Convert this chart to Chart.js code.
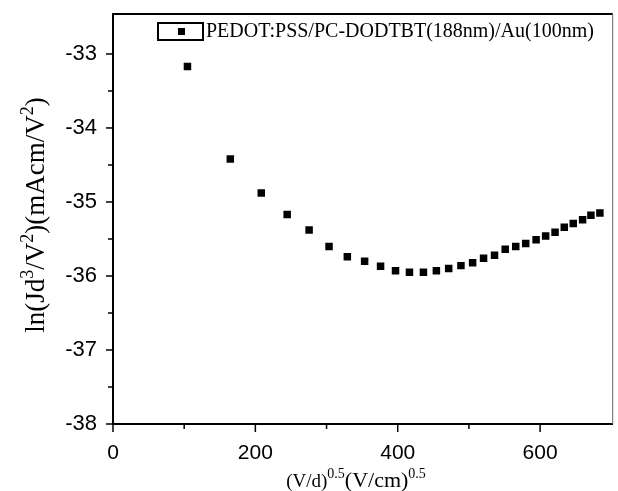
<!DOCTYPE html>
<html>
<head>
  <meta charset="UTF-8" />
  <title>SCLC plot</title>
  <script src="https://cdn.jsdelivr.net/npm/chart.js@4.4.0/dist/chart.umd.min.js"></script>
  <style>
    html, body { margin: 0; padding: 0; background: #fff; }
    #wrap { width: 618px; height: 491px; }
  </style>
</head>
<body>
  <div id="wrap"><canvas id="c" width="618" height="491"></canvas></div>
  <script>
    const seriesLabel = 'PEDOT:PSS/PC-DODTBT(188nm)/Au(100nm)';
    const xValues = [104.6, 164.8, 208.3, 244.7, 275.5, 303.5, 329.2, 353.5, 375.9, 396.9,
                     416.5, 436.1, 454.3, 471.6, 488.8, 505.2, 520.6, 536.0, 551.0, 565.8,
                     579.8, 594.4, 607.8, 621.0, 634.0, 646.6, 659.7, 671.4, 684.0];
    const yValues = [-33.17, -34.42, -34.88, -35.17, -35.38, -35.60, -35.74, -35.80, -35.87, -35.93,
                     -35.95, -35.95, -35.93, -35.90, -35.86, -35.82, -35.76, -35.72, -35.64, -35.60,
                     -35.56, -35.51, -35.46, -35.41, -35.34, -35.29, -35.24, -35.18, -35.15];
    // all tick positions (major + minor) and the labelled ones
    const xTicks = [0, 100, 200, 300, 400, 500, 600];
    const xTickLabels = [0, 200, 400, 600];
    const yTicks = [-38, -37.5, -37, -36.5, -36, -35.5, -35, -34.5, -34, -33.5, -33];
    const yTickLabels = [-38, -37, -36, -35, -34, -33];

    const serif = '"Liberation Serif", "Times New Roman", serif';
    const sans = '"Liberation Sans", Arial, sans-serif';

    // draw text pieces with superscripts, centred on the origin
    function richText(ctx, parts) {
      let w = 0;
      parts.forEach(p => {
        ctx.font = p.size + 'px ' + serif;
        w += ctx.measureText(p.t).width;
      });
      let x = -w / 2;
      parts.forEach(p => {
        ctx.font = p.size + 'px ' + serif;
        ctx.fillText(p.t, x, p.rise || 0);
        x += ctx.measureText(p.t).width;
      });
    }

    const decor = {
      id: 'decor',
      afterDraw(chart) {
        const ctx = chart.ctx;
        const a = chart.chartArea;
        const xs = chart.scales.x, ys = chart.scales.y;
        ctx.save();
        // top and right frame
        ctx.strokeStyle = '#000';
        ctx.lineWidth = 2;
        ctx.beginPath();
        ctx.moveTo(a.left, a.top); ctx.lineTo(a.right, a.top);
        ctx.stroke();
        ctx.strokeStyle = '#666';
        ctx.lineWidth = 1;
        ctx.beginPath();
        ctx.moveTo(a.right, a.top); ctx.lineTo(a.right, a.bottom);
        ctx.stroke();

        // tick marks, major longer than minor
        ctx.strokeStyle = '#000';
        ctx.lineWidth = 1.5;
        xs.ticks.forEach(t => {
          const len = xTickLabels.includes(t.value) ? 8 : 5;
          const px = xs.getPixelForValue(t.value);
          ctx.beginPath();
          ctx.moveTo(px, a.bottom); ctx.lineTo(px, a.bottom + len);
          ctx.stroke();
        });
        ys.ticks.forEach(t => {
          const len = yTickLabels.includes(t.value) ? 7 : 5;
          const py = ys.getPixelForValue(t.value);
          ctx.beginPath();
          ctx.moveTo(a.left, py); ctx.lineTo(a.left - len, py);
          ctx.stroke();
        });

        // legend
        ctx.lineWidth = 2;
        ctx.strokeRect(158, 23, 45, 17);
        ctx.fillStyle = '#000';
        ctx.fillRect(178, 28, 7, 7);
        ctx.font = '20px ' + serif;
        ctx.textBaseline = 'middle';
        ctx.textAlign = 'left';
        ctx.fillText(chart.data.datasets[0].label, 206, 32);

        // axis titles
        ctx.textBaseline = 'alphabetic';
        ctx.save();
        ctx.translate(44, 215);
        ctx.rotate(-Math.PI / 2);
        richText(ctx, [
          { t: 'ln(Jd', size: 27 }, { t: '3', size: 18, rise: -11 }, { t: '/V', size: 27 },
          { t: '2', size: 18, rise: -11 }, { t: ')(mAcm/V', size: 27 },
          { t: '2', size: 18, rise: -11 }, { t: ')', size: 27 }
        ]);
        ctx.restore();

        ctx.save();
        ctx.translate(356, 487);
        richText(ctx, [
          { t: '(V/d)', size: 19 }, { t: '0.5', size: 14, rise: -9 },
          { t: '(V/cm)', size: 22 }, { t: '0.5', size: 14, rise: -9 }
        ]);
        ctx.restore();

        ctx.restore();
      }
    };

    new Chart(document.getElementById('c'), {
      type: 'scatter',
      data: {
        datasets: [{
          label: seriesLabel,
          data: xValues.map((x, i) => ({ x: x, y: yValues[i] })),
          pointStyle: 'rect',
          pointRadius: 5.3,
          pointHoverRadius: 5.3,
          backgroundColor: '#000',
          borderWidth: 0
        }]
      },
      options: {
        responsive: false,
        animation: false,
        layout: { padding: { left: 0, top: 14, right: 3, bottom: 0 } },
        plugins: { legend: { display: false }, tooltip: { enabled: false } },
        scales: {
          x: {
            type: 'linear',
            min: 0, max: 702,
            afterBuildTicks: s => { s.ticks = xTicks.map(v => ({ value: v })); },
            afterFit: s => { s.height = 67; s.paddingLeft = 0; s.paddingRight = 0; },
            grid: { display: false },
            border: { display: true, color: '#000', width: 2 },
            ticks: {
              padding: 9,
              color: '#000',
              font: { family: sans, size: 21 },
              maxRotation: 0,
              autoSkip: false,
              callback: v => xTickLabels.includes(v) ? String(v) : ''
            }
          },
          y: {
            type: 'linear',
            min: -38, max: -32.46,
            afterBuildTicks: s => { s.ticks = yTicks.map(v => ({ value: v })); },
            afterFit: s => { s.width = 113; s.paddingTop = 0; s.paddingBottom = 0; },
            grid: { display: false },
            border: { display: true, color: '#000', width: 2 },
            ticks: {
              padding: 8,
              color: '#000',
              font: { family: sans, size: 22 },
              autoSkip: false,
              callback: v => yTickLabels.includes(v) ? String(v) : ''
            }
          }
        }
      },
      plugins: [decor]
    });
  </script>
</body>
</html>
